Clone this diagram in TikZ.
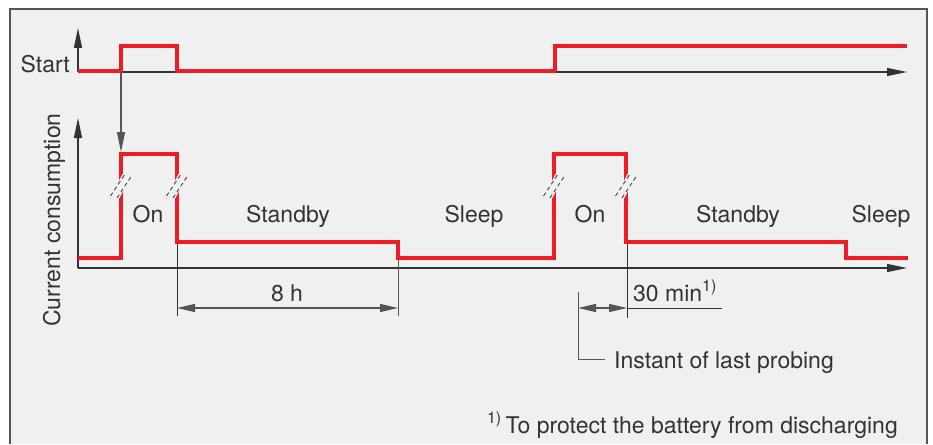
\documentclass[tikz,border=0pt]{standalone}
\usepackage{fontspec}
\setmainfont{TeX Gyre Heros}
\usetikzlibrary{arrows.meta}

\definecolor{sigred}{HTML}{EE1C25}
\definecolor{panel}{HTML}{F0F0F0}
\definecolor{ink}{HTML}{333333}
\definecolor{rule}{HTML}{555555}

\tikzset{
  tip/.style={-{Triangle[length=20pt,width=8pt]}},
  axis/.style={tip, draw=ink, line width=1.3pt},
  signal/.style={draw=sigred, line width=4pt, line join=miter},
  dimline/.style={draw=rule, line width=1.2pt, {Triangle[length=18pt,width=8pt]}-{Triangle[length=18pt,width=8pt]}},
  extline/.style={draw=ink, line width=1pt},
  cut/.style={draw=ink, line width=0.8pt, dash pattern=on 4pt off 3pt},
  lbl/.style={anchor=base, inner sep=0pt},
}

% break mark on a vertical edge of the signal
\newcommand\cutmark[1]{%
  \begin{scope}[shift={#1}]
    \fill[panel] (-8.5,7.5) -- (-1.5,12) -- (8.5,-7.5) -- (1.5,-12) -- cycle;
    \draw[cut] (-10.5,10) -- (4,-12);
    \draw[cut] (-4,12) -- (10.5,-10);
  \end{scope}
}

\begin{document}
\begin{tikzpicture}[x=1pt, y=-1pt, font=\fontsize{23}{27}\selectfont, text=ink]
  \useasboundingbox (0,0) rectangle (933,444);
  \fill[panel] (10,9) rectangle (927,444);
  \draw[rule, line width=1.5pt] (10,444) -- (10,9) -- (927,9) -- (927,444);

  % axes
  \coordinate (s0) at (78,72);
  \coordinate (sy) at (78,28);
  \coordinate (sx) at (907,72);
  \coordinate (c0) at (78,268);
  \coordinate (cy) at (78,118);
  \coordinate (cx) at (907,268);
  \draw[axis] (s0) -- (sy);
  \draw[axis] (s0) -- (sx);
  \draw[axis] (c0) -- (cy);
  \draw[axis] (c0) -- (cx);

  % signals
  \draw[signal] (78,71) -| (121,46) -| (177,71) -| (555,46) -- (907,46);
  \draw[signal] (78,258) -| (121,154) -| (177,242) -| (398,258)
    -| (554,154) -| (626,242) -| (846,258) -- (908,258);

  \cutmark{(121,186)}
  \cutmark{(177,186)}
  \cutmark{(554,186)}
  \cutmark{(626,186)}

  % start triggers the first "on"
  \coordinate (rise) at (121,73);
  \coordinate (on1top) at (121,152);
  \draw[tip, draw=rule, line width=1.2pt] (rise) -- (on1top);

  % 8 h
  \coordinate (e1) at (177,244);
  \coordinate (e1b) at (177,316);
  \coordinate (e2) at (398,260);
  \coordinate (e2b) at (398,316);
  \coordinate (d1) at (177,308);
  \coordinate (d2) at (398,308);
  \draw[extline] (e1) -- (e1b);
  \draw[extline, draw=rule] (e2) -- (e2b);
  \draw[dimline] (d1) -- (d2);

  % 30 min
  \coordinate (e3) at (627,244);
  \coordinate (e3b) at (627,318);
  \coordinate (d4) at (627,308);
  \coordinate (e3r) at (722,308);
  \coordinate (probe) at (578,292);
  \coordinate (probec) at (578,359);
  \coordinate (probee) at (605,359);
  \coordinate (d3) at (578,308);
  \draw[extline] (e3) -- (e3b);
  \draw[extline] (d4) -- (e3r);
  \draw[extline, draw=rule] (probe) -- (probec) -- (probee);
  \draw[dimline] (d3) -- (d4);

  % labels
  \node[lbl, anchor=base east] (start) at (70,72) {Start};
  \node[lbl, rotate=90] (current) at (60,220) {Current consumption};
  \node[lbl] (on1) at (148,222) {On};
  \node[lbl] (stby1) at (288,222) {Standby};
  \node[lbl] (sleep1) at (474,222) {Sleep};
  \node[lbl] (on2) at (590,222) {On};
  \node[lbl] (stby2) at (738,222) {Standby};
  \node[lbl] (sleep2) at (881,222) {Sleep};
  \node[lbl] (eight) at (287,301) {8 h};
  \node[lbl, anchor=base west] (thirty) at (633,301) {30 min\textsuperscript{1)}};
  \node[lbl, anchor=base west] (instant) at (614,368) {Instant of last probing};
  \node[lbl, anchor=base east] (note) at (898,433)
    {\textsuperscript{1)}\,To protect the battery from discharging};
\end{tikzpicture}
\end{document}
